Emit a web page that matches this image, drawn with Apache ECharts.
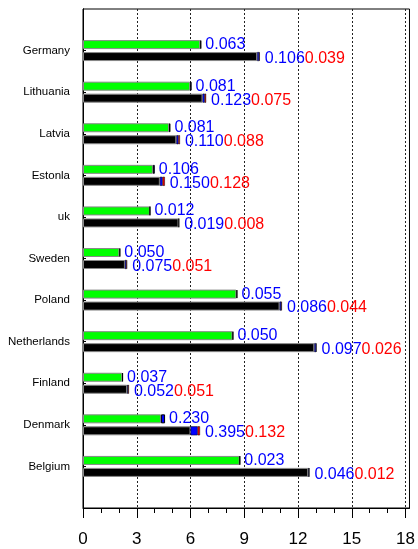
<!DOCTYPE html>
<html>
<head>
<meta charset="utf-8">
<script src="https://cdn.jsdelivr.net/npm/echarts@6/dist/echarts.min.js"></script>
<style>
  html, body { margin: 0; padding: 0; background: #fff; }
  #chart { width: 418px; height: 549px; }
</style>
</head>
<body>
<div id="chart"></div>
<script>
// 数据
var countries = ['Germany', 'Lithuania', 'Latvia', 'Estonla', 'uk', 'Sweden',
  'Poland', 'Netherlands', 'Finland', 'Denmark', 'Belgium'];
// green bars (upper) + their blue end piece
var greenBase = [6.54, 5.98, 4.80, 3.90, 3.73, 2.03, 8.56, 8.34, 2.19, 4.35, 8.74];
var greenBlue = [0.063, 0.081, 0.081, 0.106, 0.012, 0.050, 0.055, 0.050, 0.037, 0.230, 0.023];
// black bars (lower) + blue and red end pieces
var blackBase = [9.72, 6.67, 5.21, 4.29, 5.33, 2.34, 10.97, 12.91, 2.46, 6.00, 12.57];
var blackBlue = [0.106, 0.123, 0.110, 0.150, 0.019, 0.075, 0.086, 0.097, 0.052, 0.395, 0.046];
var blackRed = [0.039, 0.075, 0.088, 0.128, 0.008, 0.051, 0.044, 0.026, 0.051, 0.132, 0.012];
var xTicks = [0, 3, 6, 9, 12, 15, 18];
var xMinorTicks = [1, 2, 4, 5, 7, 8, 10, 11, 13, 14, 16, 17];

// 上下各留一格空位
function pad(arr) { return ['-'].concat(arr, ['-']); }
var cats = [''].concat(countries, ['']);

var font = 'Liberation Sans, Arial, sans-serif';
var barW = 9;

var myChart = echarts.init(document.getElementById('chart'), null, { renderer: 'canvas' });

var option = {
  animation: false,
  grid: {
    left: 83, right: 5, top: 9, bottom: 41,
    show: true, borderColor: '#000', borderWidth: 1
  },
  xAxis: [
    {
      type: 'value', min: 0, max: 18.22, interval: 3,
      position: 'bottom',
      axisLine: { show: true, onZero: false, lineStyle: { color: '#000', width: 1 } },
      axisTick: { show: true, customValues: xTicks, length: 10, inside: false,
        lineStyle: { color: '#000', width: 1 } },
      axisLabel: { customValues: xTicks, fontSize: 17, color: '#000', fontFamily: font, margin: 23 },
      splitLine: { show: true, lineStyle: { color: '#222', width: 1, type: [2, 2] } }
    },
    {
      type: 'value', min: 0, max: 18.22, interval: 1,
      position: 'bottom',
      axisLine: { show: false },
      axisTick: { show: true, customValues: xMinorTicks, length: 5,
        lineStyle: { color: '#000', width: 1 } },
      axisLabel: { show: false },
      splitLine: { show: false }
    }
  ],
  yAxis: [
    {
      type: 'category', data: cats, inverse: true, boundaryGap: false,
      position: 'left',
      axisLine: { show: true, lineStyle: { color: '#000', width: 1 } },
      axisTick: { show: false },
      axisLabel: { fontSize: 11.5, color: '#000', fontFamily: font, margin: 13 }
    },
    {
      type: 'category', data: cats, inverse: true, boundaryGap: false,
      position: 'right',
      axisLine: { show: true, lineStyle: { color: '#000', width: 1 } },
      axisTick: { show: true, length: 3,
        interval: function (i) { return i > 0 && i < cats.length - 1; },
        lineStyle: { color: '#000', width: 1 } },
      axisLabel: { show: false }
    }
  ],
  series: [
    {
      name: 'green', type: 'bar', stack: 'g', barWidth: barW, barGap: '33%',
      itemStyle: { color: '#00ff00', borderColor: '#888', borderWidth: 1 },
      data: pad(greenBase)
    },
    {
      name: 'greenBlue', type: 'bar', stack: 'g', barWidth: barW,
      itemStyle: { color: '#0000ff', borderColor: '#000', borderWidth: 1 },
      label: {
        show: true, position: 'right', distance: 4,
        color: '#0000ff', fontSize: 16, fontFamily: font,
        formatter: function (p) { return greenBlue[p.dataIndex - 1].toFixed(3); }
      },
      data: pad(greenBlue)
    },
    {
      name: 'black', type: 'bar', stack: 'k', barWidth: barW,
      itemStyle: { color: '#000', borderColor: '#888', borderWidth: 1 },
      data: pad(blackBase)
    },
    {
      name: 'blackBlue', type: 'bar', stack: 'k', barWidth: barW,
      itemStyle: { color: '#0000ff', borderColor: '#000', borderWidth: 0.5 },
      data: pad(blackBlue)
    },
    {
      name: 'blackRed', type: 'bar', stack: 'k', barWidth: barW,
      itemStyle: { color: '#ff0000', borderColor: '#000', borderWidth: 0.5 },
      label: {
        show: true, position: 'right', distance: 5, offset: [0, 2],
        fontSize: 16, fontFamily: font,
        formatter: function (p) {
          var i = p.dataIndex - 1;
          return '{b|' + blackBlue[i].toFixed(3) + '}{r|' + blackRed[i].toFixed(3) + '}';
        },
        rich: {
          b: { color: '#0000ff', fontSize: 16, fontFamily: font },
          r: { color: '#ff0000', fontSize: 16, fontFamily: font }
        }
      },
      data: pad(blackRed)
    }
  ]
};

myChart.setOption(option);
</script>
</body>
</html>
